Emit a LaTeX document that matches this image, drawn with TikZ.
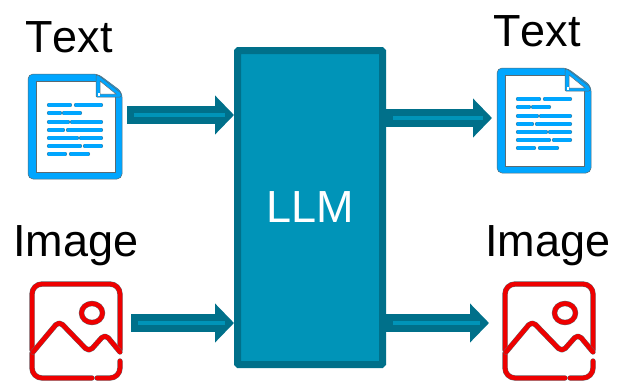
\documentclass[tikz,border=0pt]{standalone}
\usepackage{fontspec}
\setmainfont{Liberation Sans}[Kerning=Off]
\usepackage[HTML]{xcolor}
\usetikzlibrary{arrows.meta}
\definecolor{llmdark}{HTML}{00708A}
\definecolor{llmfill}{HTML}{0094B8}
\definecolor{docblue}{HTML}{00A6FF}
\definecolor{imgred}{HTML}{EE0000}
\definecolor{iconedge}{HTML}{5A6A72}
\tikzset{
  label/.style={font=\fontsize{45}{45}\selectfont, anchor=base, inner sep=0pt},
  llmbox/.style={draw=llmdark, fill=llmfill, line width=7pt, rounded corners=1pt, minimum width=145pt, minimum height=314pt, inner sep=0pt, text=white},
  flowarrow/.style={draw=llmdark, line width=18pt, -{Triangle[length=19pt, width=38pt]}},
  flowcore/.style={draw=llmfill, line width=4.5pt, shorten <=7pt, shorten >=9pt},
  docline/.style={draw=iconedge, line width=.4pt, double=docblue, double distance=3.4pt, line cap=round},
  imgline/.style={draw=iconedge, line width=.4pt, double=imgred, double distance=4.5pt, line cap=round, line join=round},
  pics/docicon/.style={code={
    % sheet with the folded corner
    \draw[iconedge, fill=docblue, line width=.5pt, rounded corners=5pt] (0,0) -- (70,0) -- (94,18) -- (94,105) -- (0,105) -- cycle;
    \draw[iconedge, fill=white, line width=.5pt] (8,7) -- (72,7) -- (72,21) -- (87,21) -- (87,98) -- (8,98) -- cycle;
    \draw[iconedge, fill=docblue, line width=.5pt, rounded corners=1pt] (68,1) -- (68,23) -- (93,23) -- (93,19) -- (70,1) -- cycle;
    \draw[iconedge, fill=white, line width=.5pt] (72,7) -- (72,20) -- (88,20) -- cycle;
    \fill[white] (70,22) -- (70,19) -- (72,19) -- (72,22) -- cycle;
    % rows of words
    \foreach \xa/\xb/\xc/\xd/\yy in {21/42/48/73/31, 21/32/36/52/39, 21/40/44/73/48, 21/35/40/73/56, 21/49/53/73/64, 21/52/57/73/72, 21/37/43/60/80} {
      \draw[docline] (\xa,\yy) -- (\xb,\yy);
      \draw[docline] (\xc,\yy) -- (\xd,\yy);
    }
  }},
  pics/imgicon/.style={code={
    % frame, open where the hills meet it
    \draw[imgline, rounded corners=10pt] (2,69) -- (2,3) -- (90,3) -- (90,69);
    \draw[imgline, rounded corners=10pt] (62,97) -- (2,97) -- (2,72);
    \draw[imgline, rounded corners=10pt] (90,80) -- (90,97) -- (67,97);
    \draw[imgline, rounded corners=5pt] (3,71) -- (29,40) -- (59,71) -- (75,53) -- (90,71);
    \draw[imgline] (62,32) ellipse (10.5pt and 9.5pt);
  }}
}
\begin{document}
\begin{tikzpicture}[x=1pt, y=-1pt]
\useasboundingbox (0,0) rectangle (618,381);

\node[label] (texta)  at (69,52)   {Text};
\node[label] (textb)  at (537,46)  {Text};
\node[label] (imagea) at (76,256)  {Image};
\node[label] (imageb) at (548,256) {Image};

\pic (doca) at (28,74)  {docicon};
\pic (docb) at (497,68) {docicon};
\pic (imga) at (30,281)  {imgicon};
\pic (imgb) at (503,281) {imgicon};

\coordinate (ina)  at (127,115);
\coordinate (inb)  at (131,323);
\coordinate (outa) at (386,118);
\coordinate (outb) at (386,323);
\coordinate (enda) at (492,118);
\coordinate (endb) at (489,323);

\node[llmbox] (llm) at (310,207.5) {\fontsize{45}{45}\selectfont LLM};

\draw[flowarrow] (ina) -- (llm.west |- ina);
\draw[flowcore]  (ina) -- (llm.west |- ina);
\draw[flowarrow] (inb) -- (llm.west |- inb);
\draw[flowcore]  (inb) -- (llm.west |- inb);
\draw[flowarrow] (outa) -- (enda);
\draw[flowcore]  (outa) -- (enda);
\draw[flowarrow] (outb) -- (endb);
\draw[flowcore]  (outb) -- (endb);
\end{tikzpicture}
\end{document}
